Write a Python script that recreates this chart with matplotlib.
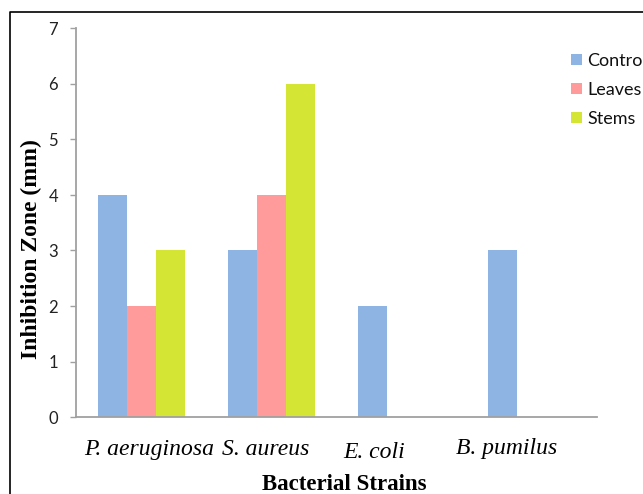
import matplotlib
matplotlib.use("Agg")
import matplotlib.pyplot as plt
from matplotlib.lines import Line2D
import numpy as np

strains = ["P. aeruginosa", "S. aureus", "E. coli", "B. pumilus"]
control = [4, 3, 2, 3]
leaves = [2, 4, 0, 0]
stems = [3, 6, 0, 0]
series_names = ["Contro", "Leaves", "Stems"]

colors = ["#8EB4E3", "#FF9B9B", "#D5E533"]
axis_gray = "#A0A0A0"

# hand-placed strain labels: shift from slot centre (data units), baseline (px from top)
label_dx = [0.058, -0.046, -0.208, -0.192]
label_base_px = [455, 455, 458, 454]

W, H = 643, 494
fig = plt.figure(figsize=(W / 100, H / 100), dpi=100)
ax = fig.add_axes([76 / W, 1 - 417 / H, (597 - 76) / W, (417 - 28.5) / H])

x = np.arange(len(strains))
bw = 0.223
for i, (vals, name) in enumerate(zip([control, leaves, stems], series_names)):
    ax.bar(x + (i - 1) * bw, vals, width=bw, color=colors[i], label=name,
           edgecolor="none")

ax.set_xlim(-0.5, 3.5)
ax.set_ylim(0, 7)
ax.set_yticks(range(0, 8))

for side in ["top", "right"]:
    ax.spines[side].set_visible(False)
for side in ["left", "bottom"]:
    ax.spines[side].set_color(axis_gray)
    ax.spines[side].set_linewidth(1.3)

ax.tick_params(axis="y", direction="out", length=4.3, width=1, color=axis_gray,
               pad=8.5, labelsize=12, labelcolor="#222222")
for lab in ax.get_yticklabels():
    lab.set_family("Lato")
ax.tick_params(axis="x", length=0, labelbottom=False)

for xi, name, dx, bpx in zip(x, strains, label_dx, label_base_px):
    ax.text(xi + dx, (417 - bpx) / (417 - 28.5), name,
            transform=ax.get_xaxis_transform(), ha="center", va="baseline",
            family="Liberation Serif", style="italic", fontsize=17, color="black")

ax.set_xlabel("Bacterial Strains", family="Liberation Serif", fontweight="bold",
              fontsize=16.5, va="baseline")
ax.xaxis.set_label_coords((344 - 76) / (597 - 76), (417 - 490) / (417 - 28.5))
ax.set_ylabel("Inhibition Zone (mm)", family="Liberation Serif", fontweight="bold",
              fontsize=17, va="center")
ax.yaxis.set_label_coords((31 - 76) / (597 - 76), (417 - 249) / (417 - 28.5))

leg = ax.legend(loc="upper left", bbox_to_anchor=(571 / W, 1 - 53 / H),
                bbox_transform=fig.transFigure, frameon=False, borderpad=0,
                borderaxespad=0, handlelength=0.62, handleheight=0.62,
                handletextpad=0.3, labelspacing=0.72,
                prop={"family": "Lato", "size": 13})
for t in leg.get_texts():
    t.set_color("#111111")

# outer frame (left and top edges only; the rest falls outside the canvas)
fig.add_artist(Line2D([10 / W, 10 / W, 1.01], [-0.01, 1 - 12 / H, 1 - 12 / H],
                      transform=fig.transFigure, color="black", linewidth=1.2))

fig.savefig("out.png", dpi=100)
